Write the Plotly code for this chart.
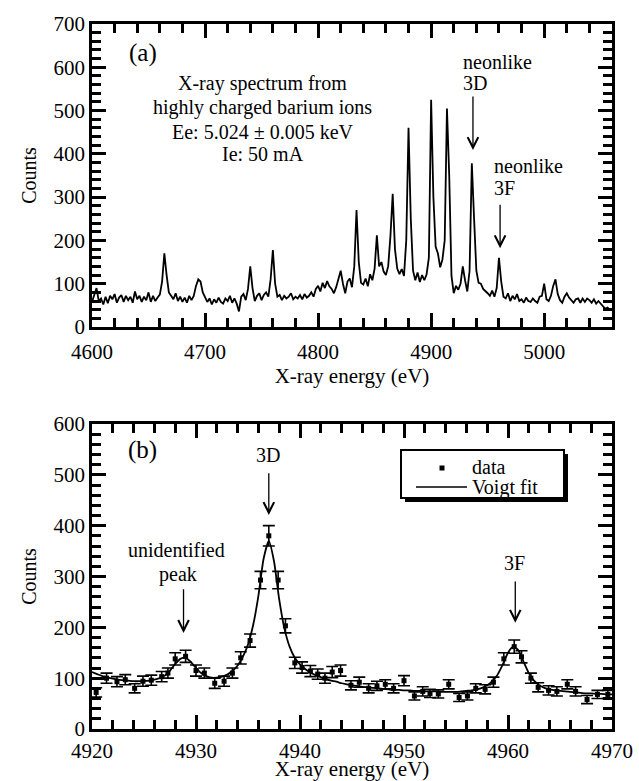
import plotly.graph_objects as go

# ---------------- data ----------------
# (a) spectrum: counts per 2 eV channel starting at 4600 eV
spec_start = 4600
spec_step = 2
spec_counts = [
    58, 72, 90, 60, 66, 52, 70, 55, 72, 64,
    76, 56, 68, 74, 58, 72, 62, 70, 56, 82,
    64, 72, 58, 70, 62, 80, 58, 72, 60, 68,
    75, 105, 170, 120, 80, 72, 64, 78, 60, 70,
    58, 68, 56, 72, 62, 72, 95, 110, 105, 80,
    68, 58, 66, 52, 64, 56, 68, 58, 54, 66,
    60, 72, 56, 66, 54, 36, 70, 76, 62, 88,
    140, 90, 60, 72, 78, 62, 74, 80, 70, 110,
    178, 100, 70, 74, 62, 72, 66, 70, 78, 64,
    70, 66, 74, 64, 76, 68, 72, 80, 70, 88,
    95, 82, 102, 90, 106, 94, 88, 78, 92, 110,
    130, 100, 78, 105, 112, 92, 140, 270, 150, 102,
    98, 112, 94, 122, 108, 135, 212, 140, 150, 128,
    120, 140, 210, 308, 180, 135, 122, 134, 118, 200,
    460, 250, 130, 108, 126, 104, 120, 108, 122, 160,
    525, 300, 185, 170, 138, 156, 200, 505, 350, 118,
    78, 95, 86, 100, 140, 108, 82, 130, 378, 250,
    130, 102, 100, 88, 84, 78, 72, 84, 70, 90,
    160, 105, 70, 66, 78, 60, 72, 64, 76, 60,
    64, 56, 68, 60, 58, 66, 60, 56, 70, 72,
    100, 64, 60, 72, 95, 110, 76, 62, 56, 70,
    78, 68, 62, 56, 64, 66, 56, 66, 58, 66,
    62, 56, 64, 54, 60, 54, 50, 42, 45, 40,
]
spec_energy = [spec_start + spec_step * i for i in range(len(spec_counts))]

# (b) data points with error bars
b_energy = [4920.4, 4921.4, 4922.4, 4923.2, 4924.1, 4924.9, 4925.7, 4926.7, 4927.3, 4928.0,
            4929.0, 4930.0, 4930.8, 4931.8, 4932.7, 4933.5, 4934.3, 4935.2, 4936.2, 4937.0,
            4937.9, 4938.6, 4939.5, 4940.2, 4941.0, 4941.7, 4942.4, 4943.1, 4943.9, 4944.9,
            4945.7, 4946.6, 4947.4, 4948.2, 4949.0, 4950.0, 4951.0, 4951.8, 4952.5, 4953.3,
            4954.3, 4955.3, 4956.1, 4956.9, 4957.8, 4958.6, 4959.6, 4960.6, 4961.3, 4962.2,
            4962.9, 4963.9, 4964.7, 4965.7, 4966.5, 4967.6, 4968.6, 4969.6]
b_counts = [72, 100, 93, 97, 80, 94, 96, 103, 110, 138,
            143, 115, 110, 90, 94, 110, 140, 174, 293, 380,
            293, 203, 130, 121, 114, 108, 100, 112, 115, 86,
            92, 80, 85, 88, 80, 95, 65, 74, 70, 69,
            88, 62, 65, 80, 78, 92, 138, 162, 142, 100,
            82, 76, 74, 88, 74, 58, 68, 68]
b_errors = [9, 10, 10, 10, 9, 10, 10, 10, 10, 12,
            12, 11, 10, 10, 10, 10, 12, 13, 17, 20,
            17, 14, 11, 11, 11, 10, 10, 11, 11, 9,
            10, 9, 9, 9, 9, 10, 8, 9, 8, 8,
            9, 8, 8, 9, 9, 10, 12, 13, 12, 10,
            9, 9, 9, 9, 9, 8, 8, 8]

# (b) Voigt fit curve, sampled every 0.5 eV from 4920 eV
fit_start = 4920.0
fit_step = 0.5
fit_counts = [112, 108, 104, 101, 99, 97, 96, 95, 94, 94,
              94, 95, 97, 100, 105, 115, 128, 138, 140, 132,
              120, 110, 104, 101, 101, 103, 107, 114, 125, 142,
              166, 205, 262, 335, 370, 330, 255, 198, 162, 140,
              127, 118, 111, 106, 102, 98, 95, 93, 90, 88,
              86, 85, 83, 82, 81, 80, 79, 78, 77, 77,
              76, 76, 75, 75, 74, 74, 74, 73, 73, 73,
              73, 74, 75, 76, 78, 81, 86, 94, 107, 127,
              150, 162, 155, 132, 110, 95, 86, 81, 78, 76,
              75, 74, 73, 72, 71, 70, 70, 69, 69, 68, 68]
fit_energy = [fit_start + fit_step * i for i in range(len(fit_counts))]

legend_names = ["data", "Voigt fit"]

# ---------------- figure ----------------
FONT = "Liberation Serif"
W, H = 639, 781

fig = go.Figure()
fig.add_trace(go.Scatter(x=spec_energy, y=spec_counts, mode="lines",
                         line=dict(color="black", width=1.8),
                         showlegend=False, xaxis="x", yaxis="y"))
fig.add_trace(go.Scatter(x=b_energy, y=b_counts, mode="markers", name=legend_names[0],
                         marker=dict(color="black", size=5, symbol="square"),
                         error_y=dict(type="data", array=b_errors, visible=True,
                                      color="black", thickness=1.6, width=6),
                         showlegend=False, xaxis="x2", yaxis="y2"))
fig.add_trace(go.Scatter(x=fit_energy, y=fit_counts, mode="lines", name=legend_names[1],
                         line=dict(color="black", width=1.8, shape="spline", smoothing=0.6),
                         showlegend=False, xaxis="x2", yaxis="y2"))
# empty traces so the mirrored tick axes (top / right) are drawn
for xa_, ya_ in (("x3", "y3"), ("x4", "y4")):
    fig.add_trace(go.Scatter(x=[], y=[], showlegend=False, hoverinfo="skip",
                             xaxis=xa_, yaxis=ya_))

xdom = [92 / W, 612 / W]
ydom_a = [1 - 327 / H, 1 - 24 / H]
ydom_b = [1 - 729 / H, 1 - 424 / H]

def ticks(dtick, minor_dtick, tick0, labels=True):
    return dict(ticks="inside", ticklen=14, tickwidth=3, tickcolor="black",
                dtick=dtick, tick0=tick0, showgrid=False, zeroline=False,
                showticklabels=labels,
                tickfont=dict(family=FONT, size=21, color="black"),
                minor=dict(ticks="inside", ticklen=9, tickwidth=3, tickcolor="black",
                           dtick=minor_dtick, tick0=tick0, showgrid=False),
                automargin=False)

def main_axis(dtick, minor_dtick, tick0):
    d = ticks(dtick, minor_dtick, tick0)
    d.update(showline=True, linecolor="black", linewidth=2.5, mirror=True)
    return d

tfont = dict(family=FONT, size=21, color="black")

xa = main_axis(100, 20, 4600)
xa.update(domain=xdom, range=[4600, 5060], anchor="y", ticklabelstandoff=4,
          title=dict(text="X-ray energy (eV)", font=tfont, standoff=0))
ya = main_axis(100, 20, 0)
ya.update(domain=ydom_a, range=[0, 700], anchor="x",
          title=dict(text="Counts", font=dict(family=FONT, size=20, color="black"), standoff=12))
xb = main_axis(10, 2, 4920)
xb.update(domain=xdom, range=[4920, 4970], anchor="y2", ticklabelstandoff=1,
          title=dict(text="X-ray energy (eV)", font=tfont, standoff=1))
yb = main_axis(100, 20, 0)
yb.update(domain=ydom_b, range=[0, 600], anchor="x2",
          title=dict(text="Counts", font=dict(family=FONT, size=20, color="black"), standoff=12))

# mirrored tick axes (top and right sides)
xa3 = ticks(100, 20, 4600, labels=False)
xa3.update(overlaying="x", side="top", anchor="y", range=[4600, 5060], matches="x")
ya3 = ticks(100, 20, 0, labels=False)
ya3.update(overlaying="y", side="right", anchor="x", range=[0, 700], matches="y")
xa4 = ticks(10, 2, 4920, labels=False)
xa4.update(overlaying="x2", side="top", anchor="y2", range=[4920, 4970], matches="x2")
ya4 = ticks(100, 20, 0, labels=False)
ya4.update(overlaying="y2", side="right", anchor="x2", range=[0, 600], matches="y2")

anns = []

def label(text, x, y, xref="x", yref="y", xanchor="center", size=20):
    anns.append(dict(text=text, x=x, y=y, xref=xref, yref=yref, showarrow=False,
                     xanchor=xanchor, yanchor="middle",
                     font=dict(family=FONT, size=size, color="black")))

def arrow(x, y_tail, y_head, xref="x", yref="y"):
    anns.append(dict(text="", x=x, y=y_head, ax=x, ay=y_tail, xref=xref, yref=yref,
                     axref=xref, ayref=yref, showarrow=True, arrowhead=5,
                     arrowsize=1.6, arrowwidth=1.3, arrowcolor="black", standoff=0,
                     startstandoff=0))

# panel (a)
label("(a)", 4645, 633, size=25)
label("X-ray spectrum from", 4751, 563)
label("highly charged barium ions", 4751, 508)
label("Ee: 5.024 ± 0.005 keV", 4751, 450)
label("Ie: 50 mA", 4751, 400)
label("neonlike", 4926.6, 612, xanchor="left")
label("3D", 4926.6, 564, xanchor="left")
arrow(4937, 536, 409)
label("neonlike", 4954, 372, xanchor="left")
label("3F", 4954, 321, xanchor="left")
arrow(4961, 286, 182)

# panel (b)
label("(b)", 4924.9, 549, "x2", "y2", size=25)
label("3D", 4936.9, 539, "x2", "y2")
arrow(4937.0, 506, 421, "x2", "y2")
label("unidentified", 4928.1, 352, "x2", "y2")
label("peak", 4928.3, 303, "x2", "y2")
arrow(4928.8, 278, 189, "x2", "y2")
label("3F", 4960.6, 327, "x2", "y2")
arrow(4960.7, 293, 209, "x2", "y2")

# legend box for panel (b), drawn in page pixels
def px(xp):
    return xp / W

def py(yp):
    return 1 - yp / H

shapes = [
    dict(type="rect", xref="paper", yref="paper", x0=px(405), x1=px(568), y0=py(502), y1=py(454),
         fillcolor="black", line=dict(width=0), layer="above"),
    dict(type="rect", xref="paper", yref="paper", x0=px(401), x1=px(564), y0=py(498), y1=py(450),
         fillcolor="white", line=dict(color="black", width=2), layer="above"),
    dict(type="rect", xref="paper", yref="paper", x0=px(439.5), x1=px(444.5), y0=py(470.5), y1=py(465.5),
         fillcolor="black", line=dict(width=0), layer="above"),
    dict(type="line", xref="paper", yref="paper", x0=px(416), x1=px(467), y0=py(487), y1=py(487),
         line=dict(color="black", width=1.6), layer="above"),
]
for name, yy in zip(legend_names, (467, 487)):
    anns.append(dict(text=name, x=px(470), y=py(yy), xref="paper", yref="paper",
                     xanchor="left", yanchor="middle", showarrow=False,
                     font=dict(family=FONT, size=20, color="black")))

fig.update_layout(
    width=W, height=H, autosize=False,
    margin=dict(l=0, r=0, t=0, b=0),
    paper_bgcolor="white", plot_bgcolor="white",
    font=dict(family=FONT, size=20, color="black"),
    xaxis=xa, yaxis=ya, xaxis2=xb, yaxis2=yb,
    xaxis3=xa3, yaxis3=ya3, xaxis4=xa4, yaxis4=ya4,
    annotations=anns, shapes=shapes, showlegend=False,
)

fig.write_html("out.html")
